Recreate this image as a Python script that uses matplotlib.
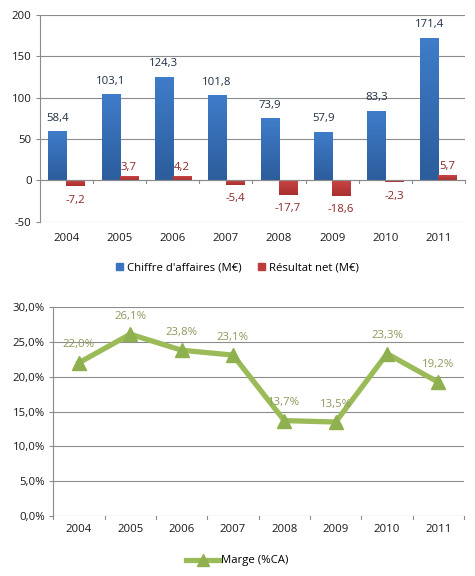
import matplotlib
matplotlib.use("Agg")
import matplotlib.pyplot as plt
import numpy as np
from matplotlib.patches import Patch
from matplotlib.lines import Line2D
from matplotlib.colors import LinearSegmentedColormap

years = ["2004", "2005", "2006", "2007", "2008", "2009", "2010", "2011"]
ca = [58.4, 103.1, 124.3, 101.8, 73.9, 57.9, 83.3, 171.4]
rn = [-7.2, 3.7, 4.2, -5.4, -17.7, -18.6, -2.3, 5.7]
marge = [22.0, 26.1, 23.8, 23.1, 13.7, 13.5, 23.3, 19.2]
top_ticks = [-50, 0, 50, 100, 150, 200]
bot_ticks = [0, 5, 10, 15, 20, 25, 30]

plt.rcParams['font.family'] = ['Open Sans', 'DejaVu Sans']

def fr(v, pct=False):
    s = f"{v:.1f}".replace(".", ",")
    return s + ("%" if pct else "")

fig = plt.figure(figsize=(4.75, 5.76), dpi=100)
grid_c = "#8c8c8c"
text_c = "#1a1a1a"
fs = 8.2

blue_cm = LinearSegmentedColormap.from_list("b", ["#2c5d9c", "#3f7cc9"])
red_cm = LinearSegmentedColormap.from_list("r", ["#a93030", "#c94444"])
grad = np.linspace(0, 1, 64).reshape(-1, 1)

# ---- top chart
ax = fig.add_axes([0.084, 0.615, 0.895, 0.359])
x = np.arange(len(years))
w = 0.34
bars_b = ax.bar(x - w/2, ca, w, color="#3a74c0", zorder=3)
bars_r = ax.bar(x + w/2, rn, w, color="#be3b3b", zorder=3)
for bars, cm in ((bars_b, blue_cm), (bars_r, red_cm)):
    for b in bars:
        x0, y0 = b.get_x(), b.get_y()
        bw, bh = b.get_width(), b.get_height()
        lo, hi = min(y0, y0 + bh), max(y0, y0 + bh)
        im = ax.imshow(grad, cmap=cm, aspect="auto", origin="lower",
                       extent=[x0, x0 + bw, lo, hi], zorder=3.1)
        b.set_alpha(0)
ax.set_xlim(-0.5, len(years) - 0.5)
ax.set_ylim(-50, 200)
ax.set_yticks(top_ticks)
ax.set_yticklabels([str(t) for t in top_ticks], fontsize=fs, color=text_c)
for t in top_ticks:
    ax.axhline(t, color=grid_c, lw=0.8, zorder=1)
ax.axhline(0, color=grid_c, lw=0.8, zorder=4)
for bnd in np.arange(-0.5, len(years) + 0.5, 1):
    ax.plot([bnd, bnd], [0, -3], color=grid_c, lw=0.8, zorder=4, clip_on=False)
ax.set_xticks(x)
ax.set_xticklabels(years, fontsize=fs, color=text_c)
ax.tick_params(axis='x', length=0, pad=8)
ax.tick_params(axis='y', length=3, color=grid_c, pad=3)
for s in ["top", "right", "bottom"]:
    ax.spines[s].set_visible(False)
ax.spines["left"].set_color(grid_c)
ax.spines["left"].set_linewidth(0.8)
for i, v in enumerate(ca):
    ax.annotate(fr(v), (x[i] - w/2, v), xytext=(0, 6), textcoords="offset points",
                ha="center", va="bottom", fontsize=fs, color="#1f2f45")
for i, v in enumerate(rn):
    if v < 0:
        ax.annotate(fr(v), (x[i] + w/2, v), xytext=(0, -6), textcoords="offset points",
                    ha="center", va="top", fontsize=fs, color="#8b2525")
    else:
        ax.annotate(fr(v), (x[i] + w/2, v), xytext=(0, 3), textcoords="offset points",
                    ha="center", va="bottom", fontsize=fs, color="#8b2525")
handles = [Patch(color="#3a74c0", label="Chiffre d'affaires (M€)"),
           Patch(color="#be3b3b", label="Résultat net (M€)")]
fig.legend(handles=handles, loc="center", bbox_to_anchor=(0.5, 1 - 268/576), ncol=2,
           frameon=False, fontsize=fs, handlelength=0.6, handleheight=0.6,
           handletextpad=0.3, columnspacing=1.5)

# ---- bottom chart
ax2 = fig.add_axes([0.112, 0.104, 0.865, 0.363])
ax2.plot(x, marge, color="#9bbb59", lw=3.8, marker="^", markersize=10,
         markerfacecolor="#8fb04e", markeredgecolor="#8fb04e", zorder=3)
ax2.set_xlim(-0.5, len(years) - 0.5)
ax2.set_ylim(0, 30)
ax2.set_yticks(bot_ticks)
ax2.set_yticklabels([fr(t, True) for t in bot_ticks], fontsize=fs, color=text_c)
for t in bot_ticks:
    ax2.axhline(t, color=grid_c, lw=0.8, zorder=1)
for bnd in np.arange(-0.5, len(years) + 0.5, 1):
    ax2.plot([bnd, bnd], [0, -0.45], color=grid_c, lw=0.8, zorder=4, clip_on=False)
ax2.set_xticks(x)
ax2.set_xticklabels(years, fontsize=fs, color=text_c)
ax2.tick_params(axis='x', length=0, pad=6)
ax2.tick_params(axis='y', length=3, color=grid_c, pad=3)
for s in ["top", "right", "bottom"]:
    ax2.spines[s].set_visible(False)
ax2.spines["left"].set_color(grid_c)
ax2.spines["left"].set_linewidth(0.8)
for i, v in enumerate(marge):
    ax2.annotate(fr(v, True), (x[i], v), xytext=(0, 9), textcoords="offset points",
                 ha="center", va="bottom", fontsize=fs, color="#8a9a5b")
h2 = [Line2D([0], [0], color="#9bbb59", lw=3.8, marker="^", markersize=8,
             markerfacecolor="#8fb04e", markeredgecolor="#8fb04e", label="Marge (%CA)")]
fig.legend(handles=h2, loc="center", bbox_to_anchor=(0.5, 1 - 561/576), frameon=False,
           fontsize=fs, handlelength=3.0, handletextpad=0.1)

fig.savefig("out.png", dpi=100, facecolor="white")
